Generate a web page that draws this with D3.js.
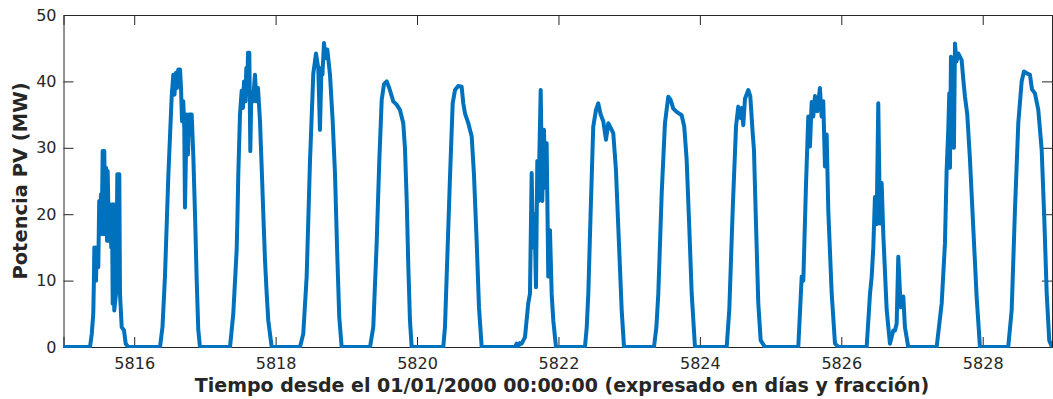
<!DOCTYPE html>
<html>
<head>
<meta charset="utf-8">
<script src="https://cdn.jsdelivr.net/npm/d3@7"></script>
<style>
  body { margin: 0; background: #fff; }
  svg { display: block; }
</style>
</head>
<body>
<div id="chart"></div>
<script>
// ticks
const xTicks = [5816, 5818, 5820, 5822, 5824, 5826, 5828];
const yTicks = [0, 10, 20, 30, 40, 50];
const xDomain = [5815, 5828.98];

// one array per day: [fraction of day, MW]
const dias = [5815, 5816, 5817, 5818, 5819, 5820, 5821, 5822, 5823, 5824, 5825, 5826, 5827, 5828];

const d5815 = [[0,0],[0.375,0],[0.400,2],[0.421,5],[0.430,10],[0.436,15],[0.445,10],[0.452,15],[0.460,10],[0.470,15],
  [0.478,13],[0.492,12],[0.505,22],[0.516,17],[0.530,23],[0.540,17],[0.554,29.5],[0.565,17],[0.577,29.5],[0.590,17],
  [0.601,27],[0.615,16],[0.625,26.5],[0.643,16],[0.658,21.5],[0.675,15],[0.685,21],[0.696,6.5],[0.704,21.5],[0.718,5.5],
  [0.742,8],[0.752,16],[0.761,26],[0.789,26],[0.799,8],[0.823,3],[0.856,2.5],[0.880,0.5],[0.916,0]];
const d5816 = [[0.365,0],[0.400,3],[0.435,10.6],[0.482,25.6],[0.530,37.7],[0.553,41],[0.570,38],[0.591,41.3],[0.605,39],[0.624,41.8],
  [0.648,41.8],[0.662,39],[0.676,34],[0.694,37],[0.708,33],[0.718,21],[0.742,35],[0.761,29],[0.775,35],[0.813,35],
  [0.836,28.7],[0.860,20],[0.884,10],[0.906,2.6],[0.930,0]];
const d5817 = [[0.355,0],[0.401,5],[0.449,14.6],[0.461,20],[0.472,26],[0.496,35],[0.520,38.6],[0.538,36],[0.553,40],
  [0.574,37],[0.585,42],[0.599,38],[0.609,44.3],[0.628,44.3],[0.642,29.5],[0.656,38],[0.680,37],[0.708,41],[0.729,37],
  [0.751,39],[0.779,34],[0.803,27],[0.826,20],[0.850,13],[0.874,8],[0.896,4],[0.944,0]];
const d5818 = [[0.345,0],[0.391,2],[0.439,10.6],[0.486,28],[0.533,41.2],[0.571,44.2],[0.603,42],[0.627,32.7],[0.648,42],
  [0.662,41],[0.684,45.8],[0.705,43.5],[0.731,44.8],[0.769,41],[0.807,34],[0.840,26],[0.872,13.8],[0.900,4.5],[0.934,0]];
const d5819 = [[0.335,0],[0.381,3],[0.429,15.6],[0.466,28],[0.500,37.2],[0.533,39.6],[0.571,40],[0.607,39],[0.664,37],
  [0.712,36.5],[0.759,35.7],[0.805,33.7],[0.829,30],[0.854,22],[0.876,12.4],[0.900,4],[0.924,0]];
const d5820 = [[0.371,0],[0.395,3],[0.419,10.6],[0.466,25.6],[0.504,36.7],[0.537,38.7],[0.583,39.3],[0.631,39.2],[0.654,36.7],
  [0.678,35.2],[0.725,33.7],[0.773,31.7],[0.805,26],[0.843,16],[0.876,6],[0.914,0]];
const d5821 = [[0.385,0],[0.409,0.5],[0.432,0.1],[0.456,0.6],[0.480,0.5],[0.527,1.5],[0.573,6.6],[0.597,8],[0.621,26.2],
  [0.640,15],[0.661,20],[0.682,9],[0.701,28],[0.718,22],[0.732,30],[0.749,38.7],[0.771,22],[0.795,32.7],[0.814,24],
  [0.833,30.7],[0.856,10.6],[0.880,17.6],[0.904,8],[0.927,4],[0.965,0]];
const d5822 = [[0.375,0],[0.400,3],[0.422,8],[0.456,20.6],[0.492,33.2],[0.531,35.7],[0.563,36.7],[0.597,35],[0.634,34],[0.672,31.2],
  [0.705,33.7],[0.739,33],[0.775,32.2],[0.813,26.7],[0.846,18.1],[0.894,5.6],[0.927,0]];
const d5823 = [[0.351,0],[0.385,3],[0.412,8],[0.460,23.1],[0.506,33.7],[0.553,37.7],[0.587,37.2],[0.624,35.9],[0.672,35.4],
  [0.742,34.9],[0.779,33.2],[0.813,28.2],[0.850,18.1],[0.884,8.1],[0.931,0]];
const d5824 = [[0.379,0],[0.416,5.6],[0.464,20.6],[0.511,33.2],[0.543,36.2],[0.574,34.5],[0.591,36],[0.614,33.4],
  [0.638,37.4],[0.685,38.7],[0.713,37.8],[0.747,32.2],[0.765,29.7],[0.795,18.1],[0.826,6.6],[0.860,1],[0.920,0]];
const d5825 = [[0.392,0],[0.440,10.6],[0.463,10],[0.500,24.1],[0.533,34.7],[0.557,30.2],[0.581,36.9],[0.604,34.7],
  [0.628,37.8],[0.660,35.5],[0.698,39],[0.722,34.7],[0.745,37],[0.769,27.2],[0.793,32],[0.816,20.6],[0.864,8.1],
  [0.911,0.5],[0.958,0]];
const d5826 = [[0.359,0],[0.406,8],[0.430,10.6],[0.453,15],[0.476,22.6],[0.500,18.5],[0.523,36.7],[0.547,18.6],
  [0.571,24.7],[0.594,17],[0.642,5.6],[0.688,0.5],[0.735,2.5],[0.759,2.5],[0.783,3.5],[0.806,13.6],[0.840,6],
  [0.877,7.6],[0.900,3],[0.947,0]];
const d5827 = [[0.349,0],[0.420,6.6],[0.466,15.6],[0.490,26.7],[0.513,32.7],[0.527,38.2],[0.537,27],[0.551,43.7],
  [0.572,35],[0.593,30],[0.608,45.7],[0.629,43],[0.654,44.2],[0.702,43.2],[0.728,40],[0.749,37.7],[0.782,35],
  [0.820,28.2],[0.866,18.1],[0.914,7.6],[0.961,0]];
const d5828 = [[0.361,0],[0.410,5.6],[0.456,20.6],[0.503,33.7],[0.551,40],[0.583,41.5],[0.626,41.2],[0.668,41],
  [0.697,38.8],[0.739,38.2],[0.786,35.7],[0.834,29.7],[0.870,19.6],[0.905,8.1],[0.941,1],[0.980,0]];

const perfiles = [d5815, d5816, d5817, d5818, d5819, d5820, d5821, d5822, d5823, d5824, d5825, d5826, d5827, d5828];

const serie = [];
dias.forEach((dia, i) => {
  perfiles[i].forEach(p => serie.push({ t: dia + p[0], v: p[1] }));
});

const W = 1053, H = 399;
const margin = { top: 15, right: 1, bottom: 52, left: 63.5 };
const innerW = W - margin.left - margin.right;
const innerH = H - margin.top - margin.bottom;

const svg = d3.select('#chart').append('svg')
  .attr('width', W)
  .attr('height', H);

const g = svg.append('g')
  .attr('transform', 'translate(' + margin.left + ',' + margin.top + ')');

const x = d3.scaleLinear().domain(xDomain).range([0, innerW]);
const y = d3.scaleLinear().domain([0, 50]).range([innerH, 0]);

const axisColor = '#262626';
const tickLen = 10;

// axes (MATLAB style, ticks inward, box on)
const xAxis = g.append('g')
  .attr('transform', 'translate(0,' + innerH + ')')
  .call(d3.axisBottom(x).tickValues(xTicks).tickSize(-tickLen).tickPadding(11).tickFormat(d3.format('d')));
const xAxisTop = g.append('g')
  .call(d3.axisTop(x).tickValues(xTicks).tickSize(-tickLen).tickFormat(''));
const yAxis = g.append('g')
  .call(d3.axisLeft(y).tickValues(yTicks).tickSize(-tickLen).tickPadding(7));
const yAxisRight = g.append('g')
  .attr('transform', 'translate(' + innerW + ',0)')
  .call(d3.axisRight(y).tickValues(yTicks).tickSize(-tickLen).tickFormat(''));

[xAxis, xAxisTop, yAxis, yAxisRight].forEach(a => {
  a.select('.domain').attr('stroke', axisColor).attr('stroke-width', 1);
  a.selectAll('.tick line').attr('stroke', axisColor).attr('stroke-width', 1);
  a.selectAll('.tick text')
    .attr('fill', axisColor)
    .attr('font-family', 'DejaVu Sans, sans-serif')
    .attr('font-size', '16px');
});

// clip + line
g.append('clipPath').attr('id', 'clip')
  .append('rect').attr('width', innerW).attr('height', innerH + 3).attr('y', -2);

const line = d3.line()
  .x(d => x(d.t))
  .y(d => y(d.v));

g.append('path')
  .datum(serie)
  .attr('clip-path', 'url(#clip)')
  .attr('fill', 'none')
  .attr('stroke', '#0072BD')
  .attr('stroke-width', 4)
  .attr('stroke-linejoin', 'round')
  .attr('d', line);

// labels
svg.append('text')
  .attr('x', 562)
  .attr('y', 392)
  .attr('text-anchor', 'middle')
  .attr('font-family', 'DejaVu Sans, sans-serif')
  .attr('font-weight', 'bold')
  .attr('font-size', '19px')
  .attr('fill', axisColor)
  .text('Tiempo desde el 01/01/2000 00:00:00 (expresado en días y fracción)');

svg.append('text')
  .attr('transform', 'translate(27,' + (margin.top + innerH / 2) + ') rotate(-90)')
  .attr('text-anchor', 'middle')
  .attr('font-family', 'DejaVu Sans, sans-serif')
  .attr('font-weight', 'bold')
  .attr('font-size', '19.5px')
  .attr('fill', axisColor)
  .text('Potencia PV (MW)');
</script>
</body>
</html>
